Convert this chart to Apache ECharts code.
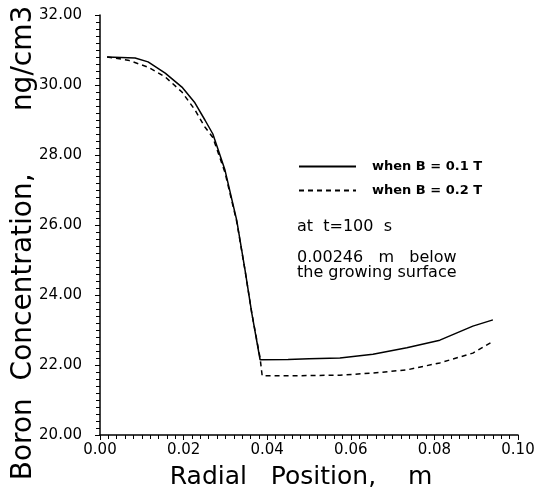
<!DOCTYPE html>
<html>
<head>
<meta charset="utf-8">
<script src="https://cdn.jsdelivr.net/npm/echarts@6/dist/echarts.min.js"></script>
<style>
	html, body { margin: 0; padding: 0; background: #fff; }
	#boronChart { width: 546px; height: 490px; }
</style>
</head>
<body>
<div id="boronChart"></div>
<script>
var xTicks = [0.00, 0.02, 0.04, 0.06, 0.08, 0.10];
var yTicks = [20, 22, 24, 26, 28, 30, 32];

var radiusB1 = [0.0017, 0.0084, 0.0115, 0.0156, 0.0196, 0.0227, 0.0251, 0.0270, 0.0299, 0.0327, 0.0347, 0.0363, 0.0383, 0.0450, 0.0500, 0.0574, 0.0653, 0.0734, 0.0813, 0.0892, 0.0940];
var concB1 = [30.80, 30.77, 30.66, 30.34, 29.94, 29.49, 29.00, 28.60, 27.57, 26.14, 24.71, 23.49, 22.15, 22.16, 22.18, 22.20, 22.31, 22.49, 22.71, 23.11, 23.29];

var radiusB2 = [0.0017, 0.0067, 0.0115, 0.0156, 0.0196, 0.0227, 0.0251, 0.0270, 0.0299, 0.0327, 0.0347, 0.0363, 0.0383, 0.0388, 0.0450, 0.0574, 0.0653, 0.0734, 0.0813, 0.0892, 0.0938];
var concB2 = [30.80, 30.71, 30.51, 30.23, 29.80, 29.29, 28.80, 28.50, 27.50, 26.10, 24.70, 23.49, 22.20, 21.69, 21.69, 21.71, 21.77, 21.86, 22.06, 22.34, 22.66];

var seriesNames = ['when B = 0.1 T', 'when B = 0.2 T'];
var noteTime = 'at  t=100  s';
var noteDepth = '0.00246   m   below\nthe growing surface';

function pairUp(xs, ys) {
	var data = [];
	for (var i = 0; i < xs.length; ++i) {
		data.push([xs[i], ys[i]]);
	}
	return data;
}

function showBoronChart() {
	var chart = echarts.init(document.getElementById('boronChart'));
	var font = 'DejaVu Sans';
	var option = {
		animation: false,
		backgroundColor: '#fff',
		grid: {
			left: 100,
			right: 28,
			top: 15,
			bottom: 55,
			outerBoundsMode: 'none'
		},
		legend: {
			orient: 'vertical',
			left: 293,
			top: 155,
			itemWidth: 57,
			itemHeight: 14,
			itemGap: 11,
			data: seriesNames,
			itemStyle: { opacity: 0 },
			textStyle: {
				fontFamily: font,
				fontSize: 13,
				fontWeight: 'bold',
				color: '#000',
				padding: [0, 0, 0, 11]
			}
		},
		graphic: [{
			type: 'text',
			left: 297,
			top: 219,
			style: {
				text: noteTime,
				font: '16px "DejaVu Sans"',
				fill: '#000'
			}
		}, {
			type: 'text',
			left: 297,
			top: 250,
			style: {
				text: noteDepth,
				font: '16px "DejaVu Sans"',
				lineHeight: 15,
				fill: '#000'
			}
		}],
		xAxis: {
			type: 'value',
			min: xTicks[0],
			max: xTicks[xTicks.length - 1],
			interval: 0.02,
			name: 'Radial   Position,    m',
			nameLocation: 'middle',
			nameGap: 30,
			nameTextStyle: {
				fontFamily: font,
				fontSize: 25,
				color: '#000',
				padding: [0, 16, 0, 0]
			},
			axisLine: { lineStyle: { color: '#000', width: 1.5 } },
			axisTick: { length: 5, lineStyle: { color: '#000' } },
			minorTick: { show: true, splitNumber: 10, length: 4, lineStyle: { color: '#000' } },
			splitLine: { show: false },
			axisLabel: {
				fontFamily: font,
				fontSize: 15,
				color: '#000',
				margin: 8,
				formatter: function(v) { return v.toFixed(2); }
			}
		},
		yAxis: {
			type: 'value',
			min: yTicks[0],
			max: yTicks[yTicks.length - 1],
			interval: 2,
			name: 'Boron  Concentration,       ng/cm3',
			nameLocation: 'middle',
			nameGap: 62,
			nameMoveOverlap: false,
			nameTextStyle: {
				fontFamily: font,
				fontSize: 28,
				color: '#000',
				padding: [0, 36, 0, 0]
			},
			axisLine: { lineStyle: { color: '#000', width: 1.5 } },
			axisTick: { length: 5, lineStyle: { color: '#000' } },
			minorTick: { show: true, splitNumber: 10, length: 4, lineStyle: { color: '#000' } },
			splitLine: { show: false },
			axisLabel: {
				fontFamily: font,
				fontSize: 15,
				color: '#000',
				margin: 18,
				formatter: function(v) { return v.toFixed(2); }
			}
		},
		series: [{
			name: seriesNames[0],
			type: 'line',
			symbol: 'none',
			smooth: false,
			lineStyle: { color: '#000', width: 1.5, type: 'solid' },
			itemStyle: { color: '#000' },
			data: pairUp(radiusB1, concB1)
		},
		{
			name: seriesNames[1],
			type: 'line',
			symbol: 'none',
			smooth: false,
			lineStyle: { color: '#000', width: 1.5, type: [5, 4] },
			itemStyle: { color: '#000' },
			data: pairUp(radiusB2, concB2)
		}]
	};
	chart.setOption(option);
}

showBoronChart();
</script>
</body>
</html>
